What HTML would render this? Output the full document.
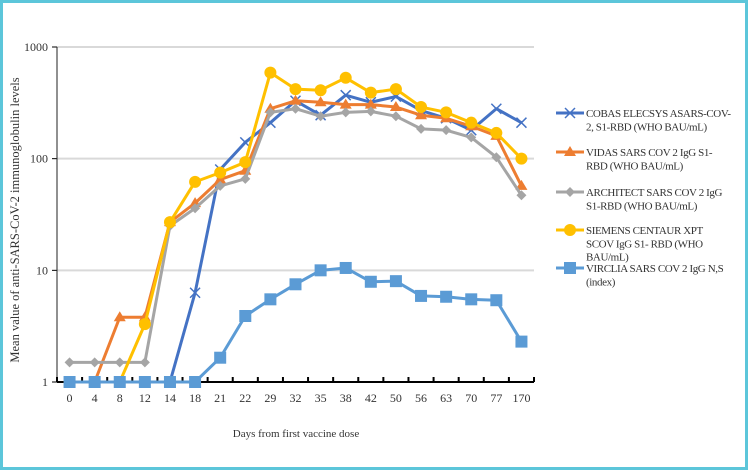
<!DOCTYPE html>
<html><head><meta charset="utf-8"><style>
html,body{margin:0;padding:0;background:#fff}
#wrap{position:relative;width:748px;height:470px;box-sizing:border-box;border:3px solid #5cc6da;overflow:hidden}
svg{position:absolute;left:-3px;top:-3px}
text{font-family:"Liberation Serif",serif;fill:#333}
</style></head><body>
<div id="wrap">
<svg id="chart" width="748" height="470"></svg>
</div>
<script>
const categories=["0","4","8","12","14","18","21","22","29","32","35","38","42","50","56","63","70","77","170"];
const cobas=[1,1,1,1,1,6.3,80,140,210,330,245,370,320,360,270,230,180,280,210];
const vidas=[1,1,3.8,3.8,27,40,65,78,280,330,320,305,305,290,245,230,195,160,57];
const architect=[1.5,1.5,1.5,1.5,25,36,57,66,260,280,240,260,265,240,185,180,155,103,47];
const siemens=[1,1,1,3.3,27,62,75,93,590,420,410,530,390,420,290,260,210,170,100];
const virclia=[1,1,1,1,1,1,1.65,3.9,5.5,7.5,10,10.5,7.9,8,5.9,5.8,5.5,5.4,2.3];
const yTicks=[1,10,100,1000];
const legendLabels=[["COBAS ELECSYS ASARS-COV-","2, S1-RBD (WHO BAU/mL)"],["VIDAS SARS COV 2 IgG S1-","RBD (WHO BAU/mL)"],["ARCHITECT SARS COV 2 IgG","S1-RBD (WHO BAU/mL)"],["SIEMENS CENTAUR XPT","SCOV IgG S1- RBD (WHO","BAU/mL)"],["VIRCLIA SARS COV 2 IgG N,S","(index)"]];

const NS="http://www.w3.org/2000/svg";
const svg=document.getElementById('chart');
const X0=57,X1=534,YT=47,YB=382;
const band=(X1-X0)/categories.length;
function xs(i){return X0+band*(i+0.5);}
function ys(v){return YB-(Math.log10(Math.max(v,1)))/3*(YB-YT);}
function el(t,a,p){const e=document.createElementNS(NS,t);for(const k in a)e.setAttribute(k,a[k]);(p||svg).appendChild(e);return e;}

yTicks.forEach(v=>{
  if(v>1){const g=el('line',{x1:X0,x2:X1,y1:ys(v),y2:ys(v),stroke:'#d9d9d9','stroke-width':2});
  
  }
  el('line',{x1:X0-5,x2:X0,y1:ys(v),y2:ys(v),stroke:'#000'});
  const t=el('text',{x:X0-9,y:ys(v)+4,'text-anchor':'end','font-size':12});
  t.textContent=v;
  
  
});
el('line',{x1:X0,x2:X0,y1:YT,y2:YB,stroke:'#222','stroke-width':1});
const xa=el('line',{x1:X0,x2:X1,y1:YB,y2:YB,stroke:'#000','stroke-width':2});


for(let i=0;i<=categories.length;i++){el('line',{x1:X0+band*i,x2:X0+band*i,y1:YB,y2:YB-5,stroke:'#000','stroke-width':2});}
categories.forEach((c,i)=>{
  const t=el('text',{x:xs(i),y:YB+20,'text-anchor':'middle','font-size':12});
  t.textContent=c;
  
  
});
let t=el('text',{x:296,y:437,'text-anchor':'middle','font-size':11});
t.textContent='Days from first vaccine dose';


t=el('text',{x:0,y:0,'text-anchor':'middle','font-size':12.5,transform:'translate(19,220) rotate(-90)'});
t.textContent='Mean value of anti-SARS-CoV-2 immunoglobulin levels';



function marker(g,type,x,y,c){
  if(type==='x'){el('path',{d:`M${x-5},${y-5}L${x+5},${y+5}M${x-5},${y+5}L${x+5},${y-5}`,stroke:c,'stroke-width':1.5,fill:'none'},g);}
  else if(type==='tri'){el('path',{d:`M${x},${y-6}L${x+6},${y+4}L${x-6},${y+4}Z`,fill:c},g);}
  else if(type==='dia'){el('path',{d:`M${x},${y-5}L${x+5},${y}L${x},${y+5}L${x-5},${y}Z`,fill:c},g);}
  else if(type==='circ'){el('circle',{cx:x,cy:y,r:6,fill:c},g);}
  else if(type==='sq'){el('rect',{x:x-6,y:y-6,width:12,height:12,fill:c},g);}
}
const series=[[cobas,'#4472c4','x','series-cobas'],[vidas,'#ed7d31','tri','series-vidas'],[architect,'#a5a5a5','dia','series-architect'],[siemens,'#ffc000','circ','series-siemens'],[virclia,'#5b9bd5','sq','series-virclia']];
series.forEach(([d,c,m,n],si)=>{
  const g=el('g',{});
  
  
  el('polyline',{points:d.map((v,i)=>xs(i)+','+ys(v)).join(' '),fill:'none',stroke:c,'stroke-width':3,'stroke-linejoin':'round'},g);
  d.forEach((v,i)=>marker(g,m,xs(i),ys(v),c));
  const ly=[113,152,192,230,268][si];
  const lg=el('g',{});
  
  
  el('line',{x1:556,x2:584,y1:ly,y2:ly,stroke:c,'stroke-width':3},lg);
  marker(lg,m,570,ly,c);
  legendLabels[si].forEach((s,k)=>{const tt=el('text',{x:586,y:ly+4+k*13.3,'font-size':11,'letter-spacing':'-0.4'},lg);tt.textContent=s;});
});
</script>
</body></html>
